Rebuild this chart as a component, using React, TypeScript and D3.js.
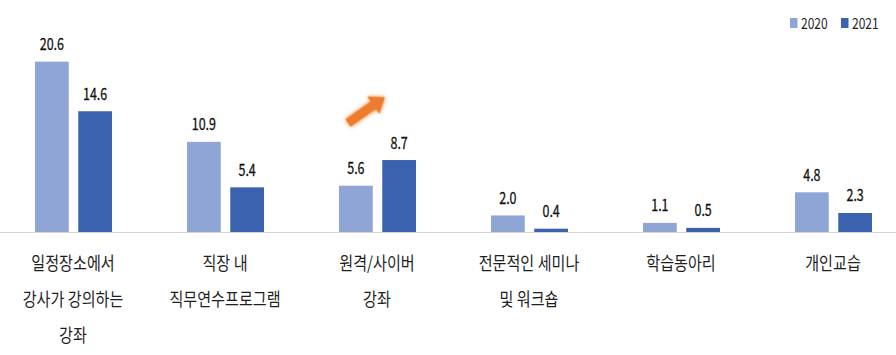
import React from "react";
import * as d3 from "d3";

const categories: string[][] = [
  ["일정장소에서", "강사가 강의하는", "강좌"],
  ["직장 내", "직무연수프로그램"],
  ["원격/사이버", "강좌"],
  ["전문적인 세미나", "및 워크숍"],
  ["학습동아리"],
  ["개인교습"],
];
const seriesNames = ["2020", "2021"];
const values2020 = [20.6, 10.9, 5.6, 2.0, 1.1, 4.8];
const values2021 = [14.6, 5.4, 8.7, 0.4, 0.5, 2.3];
const colors = ["#8EA5D6", "#3A62AE"];

const W = 896;
const H = 355;
const FONT = "'Noto Sans CJK KR', 'Noto Sans', sans-serif";

export default function App() {
  const keys = categories.map((_, i) => String(i));
  const x0 = d3.scaleBand<string>().domain(keys).range([-3, 909]).paddingInner(0);
  const x1 = d3.scaleBand<string>().domain(seriesNames).range([38, 115]).paddingInner(0.22);
  const y = d3.scaleLinear().domain([0, 25]).range([232, 232 - 25 * 8.27]);
  const series = [values2020, values2021];

  const arrowX = (x0("2") as number) + 47;
  return (
    <svg width={W} height={H} style={{ display: "block", position: "absolute", left: 0, top: 0 }}>
      <defs>
        <filter id="soft" x="-30%" y="-30%" width="160%" height="160%">
          <feGaussianBlur in="SourceGraphic" stdDeviation="2" result="b" />
          <feGaussianBlur in="SourceGraphic" stdDeviation="0.6" result="s" />
          <feMerge>
            <feMergeNode in="b" />
            <feMergeNode in="s" />
          </feMerge>
        </filter>
      </defs>
      <rect width={W} height={H} fill="#fff" />
      {keys.map((k, i) => (
        <g key={k} transform={`translate(${x0(k)},0)`}>
          {seriesNames.map((s, j) => {
            const v = series[j][i];
            const bx = x1(s) as number;
            const bw = x1.bandwidth();
            return (
              <g key={s}>
                <rect x={bx} y={y(v)} width={bw} height={y(0) - y(v)} fill={colors[j]} />
                <g transform={`translate(${bx + bw / 2},${y(v) - 11.5}) scale(0.78,1)`}>
                  <text textAnchor="middle" fontFamily={FONT} fontSize={16} fill="#111" stroke="#111" strokeWidth={0.3}>
                    {v.toFixed(1)}
                  </text>
                </g>
              </g>
            );
          })}
          {categories[i].map((line, li) => (
            <g key={li} transform={`translate(${x0.bandwidth() / 2},${262 + li * 36}) scale(0.84,1)`}>
              <text textAnchor="middle" dominantBaseline="central" fontFamily={FONT} fontSize={18} fill="#1e1e1e">
                {line}
              </text>
            </g>
          ))}
        </g>
      ))}
      <line x1={0} x2={W} y1={y(0) + 0.5} y2={y(0) + 0.5} stroke="#d4d4d4" strokeWidth={1} />
      {/* annotation arrow */}
      <g transform={`translate(${arrowX},${123}) rotate(-35)`} filter="url(#soft)">
        <path d="M0,-4.5 L31,-4.5 L31,-10.5 L45,0 L31,10.5 L31,4.5 L0,4.5 Z" fill="#EE7C2E" />
      </g>
      {/* legend */}
      {seriesNames.map((s, j) => (
        <g key={s} transform={`translate(${790 + j * 51},0)`}>
          <rect x={0} y={18} width={7.5} height={10} fill={colors[j]} />
          <g transform={`translate(11,28.5) scale(0.8,1)`}>
            <text fontFamily={FONT} fontSize={15} fill="#1e1e1e">{s}</text>
          </g>
        </g>
      ))}
    </svg>
  );
}
